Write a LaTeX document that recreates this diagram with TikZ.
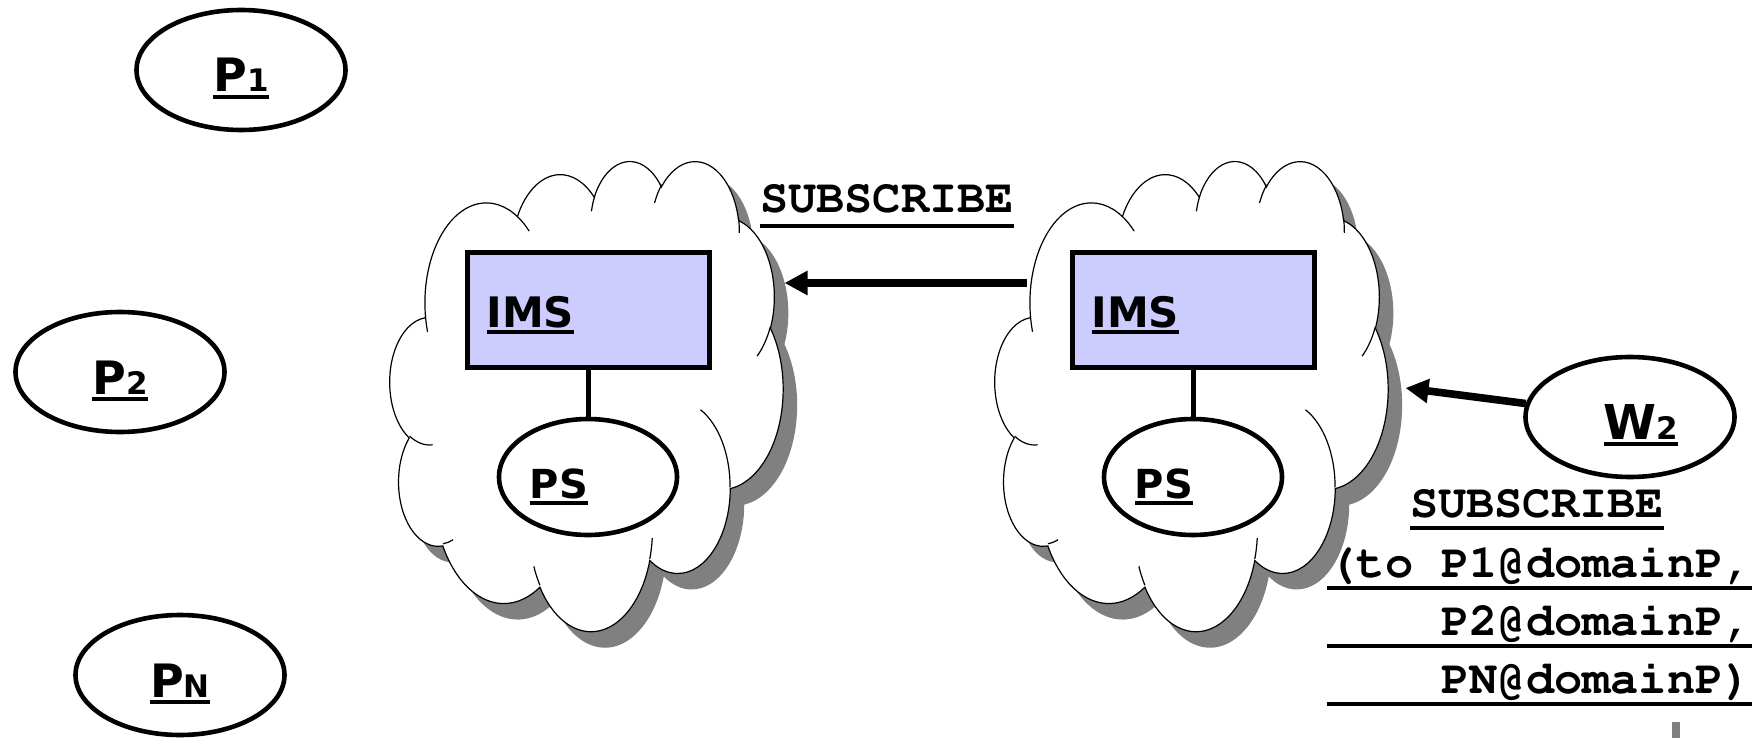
\documentclass[tikz,border=0pt]{standalone}
\usepackage{fontspec}
\usepackage{tikz}
\usetikzlibrary{positioning, arrows.meta, shapes.geometric}
\newfontfamily\verdfont{DejaVu Sans}
\newcommand{\courfont}{\fontencoding{T1}\fontfamily{pcr}\selectfont}
\definecolor{imsblue}{HTML}{CCCCFF}
\definecolor{shadowgray}{HTML}{808080}
% underlined text, #1 = depth of the rule
\newcommand{\ulbox}[2][3.5pt]{\setbox0\hbox{#2}\rlap{\rule[-#1]{\wd0}{2pt}}\box0}
\newcommand{\idx}[1]{{\fontsize{15.5}{15.5}\selectfont #1}}
\tikzset{
    peer/.style={ellipse, draw, line width=2.3pt, fill=white, minimum width=104.5pt, minimum height=60pt, inner sep=0pt, text height=22pt, text depth=0pt, font=\verdfont\bfseries\fontsize{23}{23}\selectfont},
    msg/.style={inner sep=0pt, font=\courfont\bfseries\fontsize{23.5}{23.5}\selectfont},
    arrow/.style={-{Triangle[length=11.5pt, width=11.5pt]}, line width=3.8pt},
    % elliptic arc given by radii, visual start angle and sweep
    puff/.style n args={4}{
        /utils/exec={%
            \pgfmathsetmacro\puffA{atan2(#1*sin(#3), #2*cos(#3))}%
            \pgfmathsetmacro\puffB{atan2(#1*sin(#3+#4), #2*cos(#3+#4))}%
            \pgfmathsetmacro\puffD{\puffB-\puffA}%
            \pgfmathsetmacro\puffD{\puffD-360*round((\puffD-(#4))/360)}%
            \xdef\puffpath{arc[start angle=\puffA, delta angle=\puffD, x radius=#1, y radius=#2]}%
        },
        insert path={\puffpath}
    },
    cloudrim/.style={insert path={
        [puff={675.3}{919.0}{-190.4875}{123.7805}]
        [puff={533.3}{726.7}{-144.1024}{89.9452}]
        [puff={436.5}{594.5}{-145.8079}{99.7230}]
        [puff={485.7}{659.5}{-130.9861}{117.2417}]
        [puff={533.3}{727.3}{-78.7089}{109.0269}]
        [puff={677.5}{922.0}{-46.2673}{130.2690}]
        [puff={578.5}{786.7}{0.6250}{114.0333}]
        [puff={675.2}{921.5}{22.4516}{115.1726}]
        [puff={772.0}{1054.3}{66.2426}{75.7110}]
        [puff={436.0}{591.8}{-274.9421}{146.7356}]
        [puff={434.5}{594.5}{-246.8285}{152.5189}] -- cycle}}
}

\begin{document}
\begin{tikzpicture}[
    x=0.5pt, y=-0.5pt,
    cloudline/.style={line width=0.6pt},
    imsbox/.style={rectangle, draw, line width=2.5pt, fill=imsblue, minimum width=121pt, minimum height=57.5pt, inner xsep=9.75pt, text width=101.5pt, align=left, text height=17pt, text depth=0pt, font=\verdfont\bfseries\fontsize{21}{21}\selectfont},
    psnode/.style={ellipse, draw, line width=2.3pt, fill=white, minimum width=89pt, minimum height=58pt, inner sep=0pt, text height=21pt, text depth=0pt, font=\verdfont\bfseries\fontsize{20}{20}\selectfont},
    link/.style={line width=2.5pt}
]
    \useasboundingbox (0,0) rectangle (1762,738);

    % --- Publishers in domain P ---
    \node[peer] (p1) at (241,70) {\ulbox{P\idx{1}}};
    \node[peer] (p2) at (120,372) {\ulbox{P\idx{2}}};
    \node[peer] (pn) at (180,675) {\ulbox{P\idx{N}}};

    % --- The two domains ---
    \foreach \d/\x in {L/390, R/995} {
        \begin{scope}[shift={(\x,160)}, x=0.045486pt, y=-0.054398pt]
            % shadow, cloud and the inner puff lines
            \fill[shadowgray, xshift=7pt, yshift=-8pt] (390.0,1437.0) [cloudrim];
            \filldraw[cloudline, fill=white] (390.0,1437.0) [cloudrim];
            \draw[cloudline] (469.3,2617.7) [puff={434.5}{594.5}{86.7420}{26.4295}]
                (692.8,3489.9) [puff={436.0}{591.8}{73.6105}{11.4475}]
                (1647.8,3909.0) [puff={675.2}{921.5}{137.6242}{14.0811}]
                (2882.7,3475.1) [puff={675.2}{921.5}{6.4533}{15.9984}]
                (3412.9,2295.4) [puff={578.5}{786.7}{-70.2924}{70.9174}]
                (4179.8,1535.4) [puff={533.3}{727.3}{30.3180}{27.7515}]
                (3832.4,542.6) [puff={485.7}{659.5}{-13.7443}{14.8589}]
                (2907.8,395.2) [puff={485.7}{659.5}{-149.1815}{18.1954}]
                (2214.1,472.0) [puff={436.5}{594.5}{-163.4943}{17.6864}]
                (1400.0,519.2) [puff={675.3}{919.0}{-66.7070}{12.3194}]
                (412.7,1578.9) [puff={675.3}{919.0}{157.6544}{11.8582}];
            \coordinate (cloud\d) at (2160,2160);
        \end{scope}
    }

    % IMS box with its presence server in each domain
    \foreach \d/\x in {L/588, R/1193} {
        \node[imsbox] (ims\d) at (\x,310) {\ulbox{IMS}};
        \node[psnode] (ps\d) at (\x,477) {\ulbox{PS}\kern29pt};
        \draw[link] (ims\d) -- (ps\d);
    }

    % --- Watcher ---
    \node[peer, font=\verdfont\bfseries\fontsize{24}{24}\selectfont] (w2) at (1630,417) {\kern11pt\ulbox{W\idx{2}}};

    % --- Subscriptions ---
    \draw[arrow] ([shift={(-165,-112)}]cloudR) -- ([shift={(198,-112)}]cloudL);
    \draw[arrow] (w2) -- ([shift={(214,-7)}]cloudR);

    % Message labels
    \node[msg, anchor=base] (subL) at (887,213) {\ulbox[7.5pt]{SUBSCRIBE}};
    \node[msg, anchor=base] (subW) at (1537,517) {\ulbox[6.5pt]{SUBSCRIBE}};
    \node[msg, anchor=base east] (to1) at (1752,577) {\ulbox[6.5pt]{\makebox[212.5pt][r]{(to P1@domainP,}}};
    \node[msg, anchor=base east] (to2) at (1752,635) {\ulbox[6.5pt]{\makebox[212.5pt][r]{P2@domainP,}}};
    \node[msg, anchor=base east] (to3) at (1752,693) {\ulbox[6.5pt]{\makebox[212.5pt][r]{PN@domainP)}}};

    % edge of a shadow cut off by the frame
    \fill[shadowgray] (1672,722) rectangle (1680,738);

\end{tikzpicture}
\end{document}
